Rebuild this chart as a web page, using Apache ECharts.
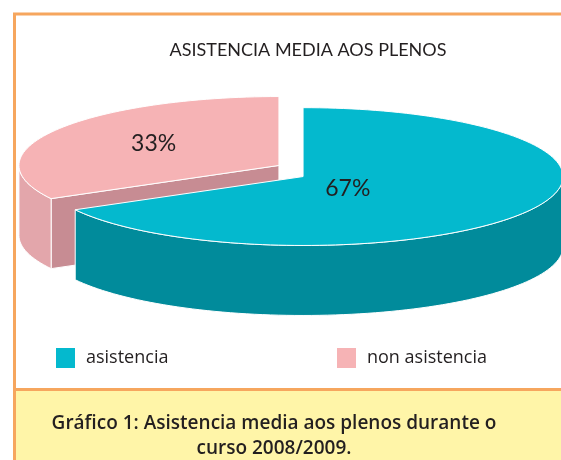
<!DOCTYPE html>
<html>
<head>
<meta charset="utf-8">
<script src="https://cdn.jsdelivr.net/npm/echarts@6/dist/echarts.min.js"></script>
<style>
  html, body { margin: 0; padding: 0; background: #fff; }
  #chart { width: 561px; height: 460px; }
</style>
</head>
<body>
<div id="chart"></div>
<script>
// data
const categories = ['asistencia', 'non asistencia'];
const shares = [67, 33];

// look
const topColors = ['#04b9ce', '#f6b3b5'];
const wallColors = ['#018b9b', '#e3a6ab'];
const cutColors = ['#017a88', '#c78c93'];
const labelRadius = [0.2, 0.56];
const TILT = 0.265;        // vertical squash of the disc
const DEPTH = 70;          // thickness in px
const EXPLODE = 14;
const EXPLODE_Y = 0.78;

const total = shares.reduce((a, b) => a + b, 0);
const starts = [];
shares.reduce((acc, v, i) => { starts[i] = acc; return acc + v; }, 0);

const chart = echarts.init(document.getElementById('chart'));

function renderSlice(params, api) {
    const i = params.seriesIndex;
    const a0 = api.value(1);
    const a1 = api.value(2);
    const c = api.coord([0, a0]);
    const m = api.coord([1, (a0 + a1) / 2]);
    const len = Math.hypot(m[0] - c[0], m[1] - c[1]);
    const ox = (m[0] - c[0]) / len * EXPLODE;
    const oy = (m[1] - c[1]) / len * EXPLODE * EXPLODE_Y;

    const pt = (r, a) => {
        const p = api.coord([r, a]);
        return [p[0] + ox, c[1] + (p[1] - c[1]) * TILT + oy];
    };
    const down = (p) => [p[0], p[1] + DEPTH];
    const arc = (a, b) => {
        const n = Math.max(2, Math.ceil((b - a) / total * 200));
        const out = [];
        for (let k = 0; k <= n; k++) out.push(pt(1, a + (b - a) * k / n));
        return out;
    };
    const cc = [c[0] + ox, c[1] + oy];
    const children = [];
    const edge = { stroke: '#fff', lineWidth: 1 };

    // radial cut faces
    const p0 = pt(1, a0);
    if (p0[0] < cc[0] - 0.5) {
        children.push({ type: 'polygon', shape: { points: [cc, p0, down(p0), down(cc)] },
            style: Object.assign({ fill: cutColors[i] }, edge) });
    }
    const p1 = pt(1, a1);
    if (p1[0] > cc[0] + 0.5) {
        children.push({ type: 'polygon', shape: { points: [cc, p1, down(p1), down(cc)] },
            style: Object.assign({ fill: cutColors[i] }, edge) });
    }

    // outer wall (front half only)
    const w0 = Math.max(a0, total * 0.25);
    const w1 = Math.min(a1, total * 0.75);
    if (w1 > w0) {
        const topArc = arc(w0, w1);
        const pts = topArc.concat(topArc.slice().reverse().map(down));
        children.push({ type: 'polygon', shape: { points: pts },
            style: Object.assign({ fill: wallColors[i] }, edge) });
    }

    // top face
    children.push({ type: 'polygon', shape: { points: [cc].concat(arc(a0, a1)) },
        style: Object.assign({ fill: topColors[i] }, edge) });

    // value label
    const lp = pt(labelRadius[i], (a0 + a1) / 2);
    children.push({ type: 'text', x: lp[0], y: lp[1] + (i === 0 ? 5 : -2), z2: 10,
        style: { text: api.value(3) + '%', align: 'center', verticalAlign: 'middle',
            fill: '#231f20', font: '23px Lato' } });

    return { type: 'group', children: children };
}

const option = {
    animation: false,
    backgroundColor: '#fff',
    title: {
        text: 'ASISTENCIA MEDIA AOS PLENOS',
        left: 303,
        top: 36,
        textAlign: 'center',
        textStyle: { fontFamily: 'Lato', fontSize: 18, fontWeight: 'normal', color: '#231f20' }
    },
    legend: categories.map((name, i) => ({
        data: [name],
        left: i === 0 ? 51 : 332,
        top: 343,
        icon: 'rect',
        itemWidth: 19,
        itemHeight: 20,
        selectedMode: false,
        textStyle: { fontFamily: 'Open Sans', fontSize: 18, color: '#231f20', padding: [0, 0, 0, 6] }
    })),
    polar: { center: [291, 171], radius: 260 },
    angleAxis: { type: 'value', min: 0, max: total, startAngle: 90, clockwise: true, show: false },
    radiusAxis: { type: 'value', min: 0, max: 1, show: false },
    graphic: [
        { type: 'rect', shape: { x: 14, y: 390, width: 547, height: 70 }, style: { fill: '#fff5a8' }, z: -1 },
        { type: 'line', shape: { x1: 13, y1: 14, x2: 561, y2: 14 }, style: { stroke: '#f6a65e', lineWidth: 3 } },
        { type: 'line', shape: { x1: 14.5, y1: 13, x2: 14.5, y2: 460 }, style: { stroke: '#f6a65e', lineWidth: 3 } },
        { type: 'line', shape: { x1: 13, y1: 389.5, x2: 561, y2: 389.5 }, style: { stroke: '#f6a65e', lineWidth: 3 } },
        { type: 'text', x: 274, y: 436,
          style: { text: 'Gráfico 1: Asistencia media aos plenos durante o\ncurso 2008/2009.',
                   align: 'center', verticalAlign: 'middle', lineHeight: 25,
                   font: '600 19px "Open Sans"', fill: '#231f20' } }
    ],
    series: categories.map((name, i) => ({
        name: name,
        type: 'custom',
        coordinateSystem: 'polar',
        z: i === 0 ? 3 : 2,
        itemStyle: { color: topColors[i] },
        renderItem: renderSlice,
        data: [[1, starts[i], starts[i] + shares[i], shares[i]]]
    }))
};

chart.setOption(option);
</script>
</body>
</html>
